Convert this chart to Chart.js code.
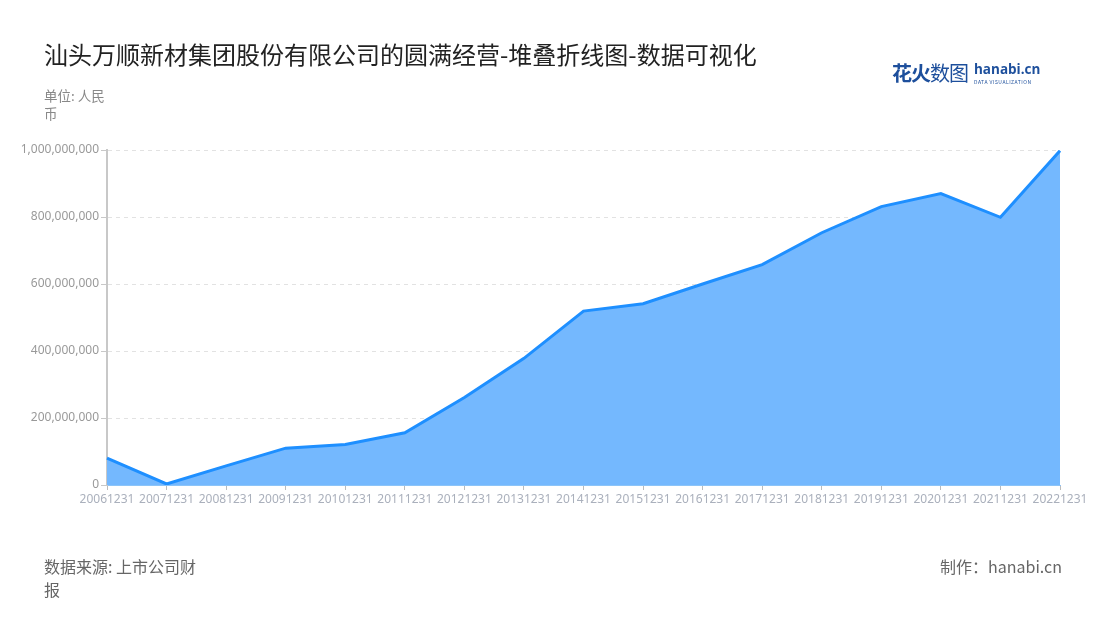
<!DOCTYPE html>
<html>
<head>
<meta charset="utf-8">
<script src="https://cdn.jsdelivr.net/npm/chart.js@4/dist/chart.umd.min.js"></script>
<style>
body{margin:0;background:#fff;font-family:"Noto Sans CJK SC","Noto Sans",sans-serif;}
#wrap{position:relative;width:1100px;height:620px;overflow:hidden;}
#chart{position:absolute;left:0;top:0;}
.title{position:absolute;left:44px;top:38px;font-size:24px;line-height:32px;color:#222;}
.unit{position:absolute;left:44px;top:86px;width:72px;font-size:13.5px;line-height:18px;color:#888;}
.source{position:absolute;left:44px;top:555px;width:162px;font-size:16px;line-height:23px;color:#666;}
.maker{position:absolute;right:38px;top:555px;font-size:16px;line-height:23px;color:#666;}
.logo{position:absolute;left:892px;top:58px;color:#1d4f9c;}
.logo .cn{font-size:20px;letter-spacing:-1px;}
.logo .cn b{font-weight:bold;}
.logo .en{position:absolute;left:82px;top:2px;font-family:"Open Sans",sans-serif;font-size:13.5px;font-weight:bold;white-space:nowrap;}
.logo .sub{position:absolute;left:82px;top:20px;font-size:5px;white-space:nowrap;letter-spacing:0.5px;}
</style>
</head>
<body>
<div id="wrap">
  <canvas id="chart" width="1100" height="620"></canvas>
  <div class="title">汕头万顺新材集团股份有限公司的圆满经营-堆叠折线图-数据可视化</div>
  <div class="unit">单位: 人民币</div>
  <div class="logo"><span class="cn"><b>花火</b>数图</span><span class="en">hanabi.cn</span><span class="sub">DATA VISUALIZATION</span></div>
  <div class="source">数据来源: 上市公司财报</div>
  <div class="maker">制作：hanabi.cn</div>
</div>
<script>
const labels = ["20061231","20071231","20081231","20091231","20101231","20111231","20121231","20131231","20141231","20151231","20161231","20171231","20181231","20191231","20201231","20211231","20221231"];
const values = [80000000,3000000,57000000,110000000,121000000,156000000,261000000,378000000,519000000,541000000,600000000,658000000,753000000,831000000,870000000,799000000,998000000];
const yTicks = [0,200000000,400000000,600000000,800000000,1000000000];

function formatNum(n){
    return new Intl.NumberFormat('en-US').format(n);
}

new Chart(document.getElementById("chart"),{
    type:'line',
    data:{
        labels:labels,
        datasets:[{
            data:values,
            borderColor:'#1e8fff',
            backgroundColor:'#74b8fe',
            borderWidth:3,
            fill:'origin',
            pointRadius:0,
            tension:0
        }]
    },
    options:{
        responsive:false,
        animation:false,
        layout:{padding:{left:0,top:150,right:40,bottom:105}},
        plugins:{legend:{display:false},tooltip:{enabled:false}},
        scales:{
            x:{
                offset:false,
                afterFit:function(scale){ scale.height = 30; },
                grid:{drawOnChartArea:false,drawTicks:true,tickLength:5,color:'#bbb'},
                border:{color:'#8cc4f8',width:1},
                ticks:{color:'#aab0bc',font:{size:12,family:'"Noto Sans","Open Sans",sans-serif'},maxRotation:0,autoSkip:false,padding:2}
            },
            y:{
                min:0,
                max:1000000000,
                afterFit:function(scale){ scale.width = 107; },
                afterBuildTicks:function(scale){ scale.ticks = yTicks.map(v => ({value:v})); },
                grid:{color:'#e2e2e2',tickColor:'#c8c8c8',tickLength:6,tickBorderDash:[]},
                border:{color:'#c8c8c8',width:2,dash:[4,4]},
                ticks:{color:'#999',font:{size:12,family:'"Noto Sans","Open Sans",sans-serif'},padding:2,callback:v => formatNum(v)}
            }
        }
    }
});
</script>
</body>
</html>
